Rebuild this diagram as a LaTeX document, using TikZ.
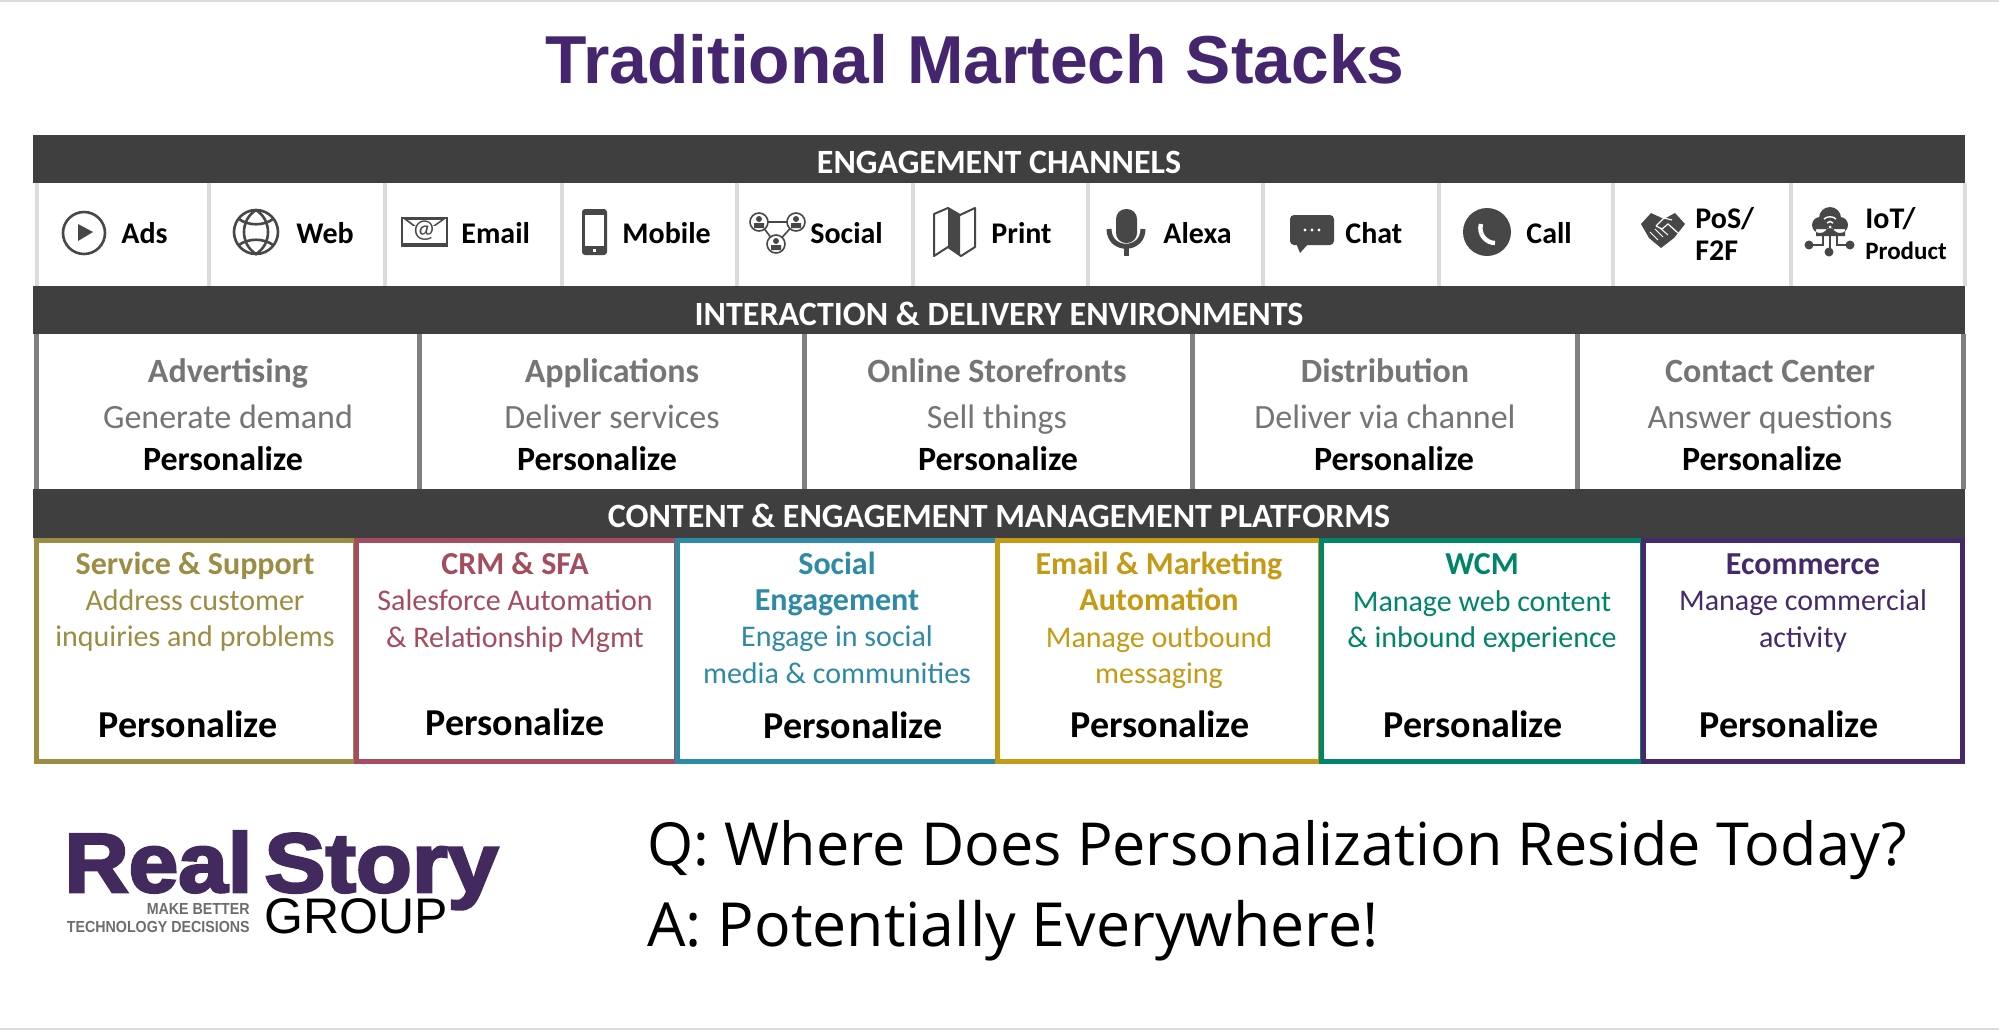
\documentclass[tikz,border=0pt]{standalone}
\usepackage{fontspec}
\setmainfont{Carlito}
\newfontfamily\titlefont{Liberation Sans}
\newfontfamily\logofont[FakeBold=3]{Liberation Sans Bold}
\newfontfamily\askfont{Open Sans}
\definecolor{barcol}{HTML}{3F3F3F}
\definecolor{sepcol}{HTML}{DCDCDC}
\definecolor{iconcol}{HTML}{474747}
\definecolor{titlecol}{HTML}{46256F}
\definecolor{midgray}{HTML}{757575}
\definecolor{midsep}{HTML}{808080}
\definecolor{taggray}{HTML}{6D6D6D}
\definecolor{svccol}{HTML}{9C8D44}
\definecolor{crmcol}{HTML}{A34D5F}
\definecolor{soccol}{HTML}{2E8AA6}
\definecolor{mailcol}{HTML}{C59A14}
\definecolor{wcmcol}{HTML}{00856A}
\definecolor{ecocol}{HTML}{46296B}
\definecolor{logocol}{HTML}{432A5E}
\newcommand{\plathead}[1]{{\fontsize{16}{18.15}\selectfont\bfseries #1}}
\tikzset{
	headbar/.style={inner sep=0pt, text=white, font=\fontsize{17}{19}\selectfont\bfseries, text height=.62em, text depth=0pt},
	chanlabel/.style={inner sep=0pt, anchor=west, font=\fontsize{15}{17}\selectfont\bfseries, text height=.62em, text depth=0pt},
	midhead/.style={inner sep=0pt, text=midgray, font=\fontsize{17}{19}\selectfont\bfseries, text height=.62em, text depth=0pt},
	midline/.style={inner sep=0pt, text=midgray, font=\fontsize{17}{19}\selectfont, text height=.62em, text depth=0pt},
	perslabel/.style={inner sep=0pt, font=\fontsize{17}{19}\selectfont\bfseries, text height=.62em, text depth=0pt},
	perslarge/.style={inner sep=0pt, font=\fontsize{19}{21}\selectfont\bfseries, text height=.62em, text depth=0pt},
	platform/.style={inner sep=0pt, anchor=north, align=center, font=\fontsize{15}{18.15}\selectfont, execute at begin node=\strut},
	platbox/.style={line width=2.5pt, fill=white, line join=miter},
	logotext/.style={inner sep=0pt, anchor=base west, transform shape},
	logotag/.style={inner sep=0pt, anchor=base east, transform shape, text=taggray, xscale=.89, font=\fontsize{8}{9}\selectfont\titlefont\bfseries},
}
\begin{document}
\begin{tikzpicture}[x=0.5pt, y=-0.5pt]
	\useasboundingbox (0,0) rectangle (1999,1030);
	\fill[white] (0,0) rectangle (1999,1030);
	\fill[sepcol] (0,0) rectangle (1999,1.5);
	\fill[sepcol] (0,1028) rectangle (1999,1030);

	% Title
	\node[inner sep=0pt, text=titlecol, font=\fontsize{33.9}{36}\selectfont\titlefont\bfseries] (title) at (975,59) {Traditional Martech Stacks};

	% Dark bars
	\fill[barcol] (33,135) rectangle (1965,183);
	\node[headbar] (headchan) at (999,167) {ENGAGEMENT CHANNELS};
	\fill[barcol] (33,286) rectangle (1965,334);
	\node[headbar] (headenv) at (999,319) {INTERACTION \& DELIVERY ENVIRONMENTS};
	\fill[barcol] (33,489) rectangle (1965,538);
	\node[headbar] (headplat) at (999,521) {CONTENT \& ENGAGEMENT MANAGEMENT PLATFORMS};

	% Channel cells
	\draw[sepcol, line width=2.3pt] (37,183) -- (37,286) (209,183) -- (209,286) (385,183) -- (385,286) (562,183) -- (562,286)
		(737,183) -- (737,286) (913,183) -- (913,286) (1088,183) -- (1088,286) (1263,183) -- (1263,286)
		(1439,183) -- (1439,286) (1613,183) -- (1613,286) (1791,183) -- (1791,286) (1965,183) -- (1965,286);

	% Ads
	\draw[iconcol, line width=1.3pt] (84,233) circle (21);
	\fill[iconcol] (78,224) -- (93,232) -- (78,241) -- cycle;
	\node[chanlabel] (ads) at (121,237) {Ads};
	% Web
	\draw[iconcol, line width=1.3pt] (256,232) circle (22);
	\draw[iconcol, line width=1.3pt] (256,210) .. controls (240,220) and (240,244) .. (256,254) .. controls (272,244) and (272,220) .. (256,210);
	\draw[iconcol, line width=1.3pt] (239,219) .. controls (248,226) and (264,226) .. (273,219);
	\draw[iconcol, line width=1.3pt] (239,245) .. controls (248,238) and (264,238) .. (273,245);
	\node[chanlabel] (web) at (296,237) {Web};
	% Email
	\draw[iconcol, line width=1pt] (402,218) rectangle (447,246);
	\fill[iconcol] (401,217) -- (448,217) -- (424,234) -- cycle;
	\fill[white] (408,220) -- (441,220) -- (424,232) -- cycle;
	\fill[iconcol] (401,243) rectangle (448,247);
	\fill[white] (411,226) rectangle (437,243);
	\node[inner sep=0pt, text=iconcol, font=\fontsize{13}{14}\selectfont] (mailat) at (424,231) {@};
	\node[chanlabel] (email) at (461,237) {Email};
	% Mobile
	\fill[iconcol, rounded corners=1.5pt] (582,209) rectangle (607,255);
	\fill[white] (585,215) rectangle (604,246);
	\fill[white] (593,249) rectangle (596,252);
	\node[chanlabel] (mobile) at (622,237) {Mobile};
	% Social
	\draw[iconcol, line width=.8pt] (759,222) -- (796,222) (759,222) -- (776,244) -- (796,222);
	\draw[iconcol, line width=.8pt, fill=white] (759,222) circle (9) (796,222) circle (9) (776,244) circle (9);
	\fill[iconcol] (759,219) circle (3) (796,219) circle (3) (776,241) circle (3);
	\fill[iconcol] (754,228) rectangle (764,223) (791,228) rectangle (801,223) (771,250) rectangle (781,245);
	\node[chanlabel] (social) at (810,237) {Social};
	% Print
	\fill[iconcol] (948,208) -- (960,215) -- (960,255) -- (948,247) -- cycle;
	\draw[iconcol, line width=1pt, line join=round] (934,214) -- (948,208) -- (960,215) -- (975,208) -- (975,247) -- (961,256) -- (948,247) -- (934,256) -- cycle;
	\node[chanlabel] (print) at (991,237) {Print};
	% Alexa
	\fill[iconcol, rounded corners=5pt] (1116,209) rectangle (1137,243);
	\draw[iconcol, line width=2.5pt] (1109,229) .. controls (1109,252) and (1143,252) .. (1143,229);
	\fill[iconcol] (1124,246) rectangle (1129,256);
	\node[chanlabel] (alexa) at (1163,237) {Alexa};
	% Chat
	\fill[iconcol, rounded corners=2pt] (1290,215) rectangle (1334,245);
	\fill[iconcol] (1296,243) -- (1300,253) -- (1309,243) -- cycle;
	\fill[white] (1305,230) circle (1.7) (1312,230) circle (1.7) (1319,230) circle (1.7);
	\node[chanlabel] (chat) at (1345,237) {Chat};
	% Call
	\fill[iconcol] (1487,232) circle (24);
	\draw[white, line width=2.2pt] (1481,224) .. controls (1478,234) and (1486,243) .. (1495,243);
	\node[chanlabel] (call) at (1526,237) {Call};
	% PoS
	\fill[iconcol] (1641,224) -- (1651,213) -- (1664,219) -- (1675,213) -- (1685,224) -- (1674,238) -- (1661,248) -- (1649,238) -- cycle;
	\draw[white, line width=.6pt] (1656,226) -- (1664,218) -- (1672,220) (1656,226) -- (1662,229) -- (1668,224) -- (1678,233);
	\draw[white, line width=.5pt] (1650,232) -- (1658,240) (1655,229) -- (1663,237) (1660,228) -- (1668,235);
	\node[chanlabel] (pos) at (1695,222) {PoS/};
	\node[chanlabel] (ftf) at (1695,254) {F2F};
	% IoT
	\fill[iconcol] (1820,225) circle (8) (1830,218) circle (11) (1840,225) circle (8) (1816,229) rectangle (1845,236);
	\draw[white, line width=.7pt] (1824,219) .. controls (1827,216) and (1833,216) .. (1836,219) (1827,223) .. controls (1829,221) and (1831,221) .. (1833,223);
	\fill[white] (1830,227) circle (1.5);
	\draw[iconcol, line width=1.2pt] (1830,236) -- (1830,251) (1823,236) -- (1823,245) -- (1809,245) (1837,236) -- (1837,245) -- (1850,245);
	\fill[iconcol] (1809,245) circle (4.5) (1829,252) circle (4.5) (1850,245) circle (4.5);
	\node[chanlabel] (iot) at (1865,222) {IoT/};
	\node[chanlabel, font=\fontsize{12.5}{14}\selectfont\bfseries] (product) at (1865,253) {Product};

	% Interaction boxes
	\draw[midsep, line width=2.5pt] (36,334) -- (36,489) (419,334) -- (419,489) (804,334) -- (804,489) (1192,334) -- (1192,489) (1577,334) -- (1577,489) (1963,334) -- (1963,489);
	\node[midhead] (advhead) at (228,376) {Advertising};
	\node[midline] (advline) at (228,422) {Generate demand};
	\node[perslabel] (advpers) at (223,464) {Personalize};
	\node[midhead] (apphead) at (612,376) {Applications};
	\node[midline] (appline) at (612,422) {Deliver services};
	\node[perslabel] (apppers) at (597,464) {Personalize};
	\node[midhead] (storehead) at (997,376) {Online Storefronts};
	\node[midline] (storeline) at (997,422) {Sell things};
	\node[perslabel] (storepers) at (998,464) {Personalize};
	\node[midhead] (disthead) at (1385,376) {Distribution};
	\node[midline] (distline) at (1385,422) {Deliver via channel};
	\node[perslabel] (distpers) at (1394,464) {Personalize};
	\node[midhead] (callhead) at (1770,376) {Contact Center};
	\node[midline] (callline) at (1770,422) {Answer questions};
	\node[perslabel] (callpers) at (1762,464) {Personalize};

	% Platform boxes
	\draw[platbox, draw=svccol] (36,540.5) rectangle (355,761.5);
	\draw[platbox, draw=crmcol] (356,540.5) rectangle (676,761.5);
	\draw[platbox, draw=soccol] (677,540.5) rectangle (997,761.5);
	\draw[platbox, draw=mailcol] (997,540.5) rectangle (1320,761.5);
	\draw[platbox, draw=wcmcol] (1321,540.5) rectangle (1642,761.5);
	\draw[platbox, draw=ecocol] (1643,540.5) rectangle (1962,761.5);
	\node[platform, text=svccol] (svc) at (195,551.5) {\plathead{Service \& Support}\\Address customer\\inquiries and problems};
	\node[platform, text=crmcol] (crm) at (515,552) {\plathead{CRM \& SFA}\\Salesforce Automation\\\& Relationship Mgmt};
	\node[platform, text=soccol] (soc) at (837,551.5) {\plathead{Social}\\\plathead{Engagement}\\Engage in social\\media \& communities};
	\node[platform, text=mailcol] (mail) at (1159,551.5) {\plathead{Email \& Marketing}\\\plathead{Automation}\\Manage outbound\\messaging};
	\node[platform, text=wcmcol] (wcm) at (1482,553.5) {\plathead{WCM}\\Manage web content\\\& inbound experience};
	\node[platform, text=ecocol] (eco) at (1803,553.5) {\plathead{Ecommerce}\\Manage commercial\\activity};
	\node[perslarge] (svcpers) at (188,731) {Personalize};
	\node[perslarge] (crmpers) at (515,729) {Personalize};
	\node[perslarge] (socpers) at (853,732) {Personalize};
	\node[perslarge] (mailpers) at (1160,731) {Personalize};
	\node[perslarge] (wcmpers) at (1473,731) {Personalize};
	\node[perslarge] (ecopers) at (1789,731) {Personalize};

	% Logo
	\node[logotext, text=logocol, xscale=1.06, font=\fontsize{42}{44}\selectfont\logofont] (logoreal) at (64,892) {Real};
	\node[logotext, text=logocol, xscale=1.09, font=\fontsize{42}{44}\selectfont\logofont] (logostory) at (264,892) {Story};
	\node[logotext, font=\fontsize{25}{27}\selectfont\titlefont] (logogroup) at (264,933) {GROUP};
	\node[logotag] (logomake) at (250,914) {MAKE BETTER};
	\node[logotag] (logotech) at (250,932) {TECHNOLOGY DECISIONS};

	% Question and answer
	\node[inner sep=0pt, anchor=base west, font=\fontsize{29.65}{32}\selectfont\askfont] (askq) at (647,865) {Q: Where Does Personalization Reside Today?};
	\node[inner sep=0pt, anchor=base west, font=\fontsize{30.4}{32}\selectfont\askfont] (aska) at (647,946.5) {A: Potentially Everywhere!};
\end{tikzpicture}
\end{document}
